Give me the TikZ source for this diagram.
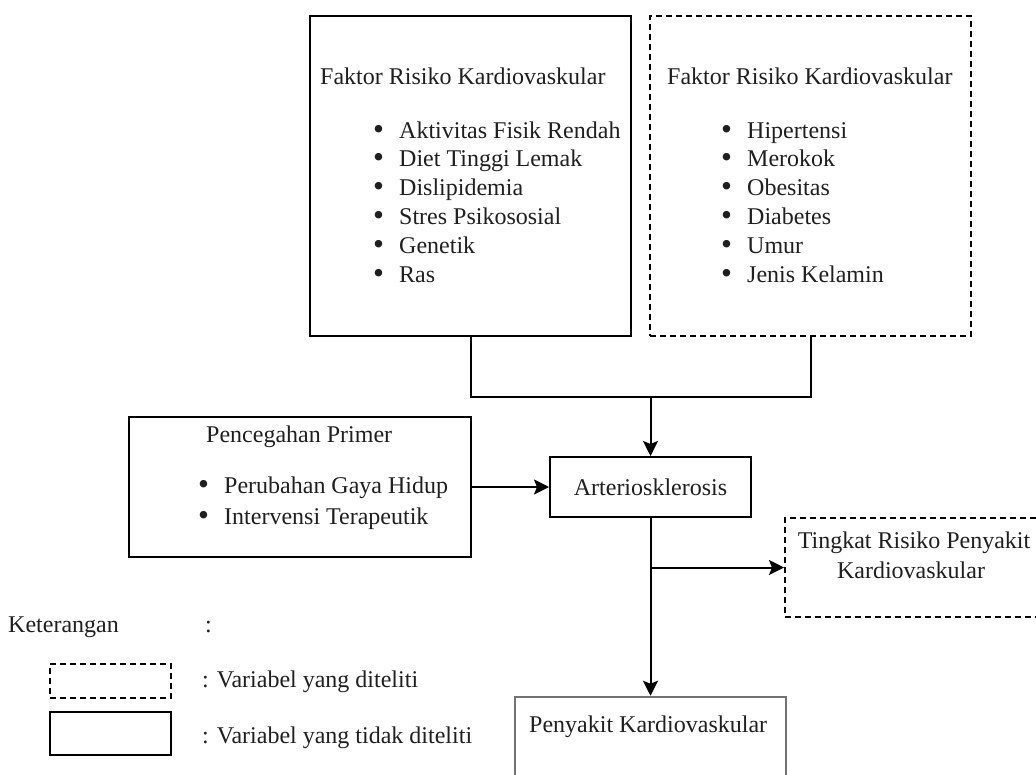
\documentclass[tikz,border=0pt]{standalone}
\usepackage{fontspec}
\setmainfont{LiberationSerif}[Extension=.ttf,UprightFont=*-Regular,BoldFont=*-Bold,ItalicFont=*-Italic,BoldItalicFont=*-BoldItalic]
\usetikzlibrary{arrows.meta}
\newcommand{\bitem}{\makebox[26pt][l]{\raisebox{-1pt}{\scalebox{1.3}{\textbullet}}}}
\begin{document}
\begin{tikzpicture}[x=1pt,y=-1pt,
  box/.style={draw, line width=2pt, inner sep=0pt, rectangle},
  dbox/.style={box, dash pattern=on 6pt off 4pt},
  txt/.style={inner sep=0pt, anchor=base west, text=black!88, font=\fontsize{24}{28}\selectfont},
  ctxt/.style={txt, anchor=base},
  conn/.style={line width=2pt},
  arr/.style={conn, -{Stealth[length=15pt,width=15pt,inset=3pt]}}]
\useasboundingbox (0,0) rectangle (1036,774);
\clip (0,0) rectangle (1036,774);

% boxes
\node[box, minimum width=321pt, minimum height=320pt] (b1) at (470.5,175.5) {};
\node[dbox, minimum width=321pt, minimum height=320pt] (b2) at (810.5,175.5) {};
\node[box, minimum width=342pt, minimum height=140pt] (pen) at (300,487) {};
\node[box, minimum width=201pt, minimum height=60pt, text=black!88, font=\fontsize{24}{28}\selectfont] (art) at (650.5,487) {Arteriosklerosis};
\node[dbox, minimum width=256pt, minimum height=99pt] (tk) at (913,567.5) {};
\node[box, draw=black!55, line width=2.5pt, minimum width=271pt, minimum height=160pt] (pk) at (650.5,777) {};
\node[dbox, minimum width=121pt, minimum height=34pt] (ld) at (110.5,681) {};
\node[box, minimum width=121pt, minimum height=43pt] (ls) at (110.5,733.5) {};

% texts box 1
\node[txt] (t1) at (320,84) {Faktor Risiko Kardiovaskular};
\node[txt] (a1) at (373,138) {\bitem Aktivitas Fisik Rendah};
\node[txt] (a2) at (373,166.8) {\bitem Diet Tinggi Lemak};
\node[txt] (a3) at (373,195.6) {\bitem Dislipidemia};
\node[txt] (a4) at (373,224.4) {\bitem Stres Psikososial};
\node[txt] (a5) at (373,253.2) {\bitem Genetik};
\node[txt] (a6) at (373,282) {\bitem Ras};

% texts box 2
\node[txt] (t2) at (667,84) {Faktor Risiko Kardiovaskular};
\node[txt] (c1) at (721,138) {\bitem Hipertensi};
\node[txt] (c2) at (721,166.8) {\bitem Merokok};
\node[txt] (c3) at (721,195.6) {\bitem Obesitas};
\node[txt] (c4) at (721,224.4) {\bitem Diabetes};
\node[txt] (c5) at (721,253.2) {\bitem Umur};
\node[txt] (c6) at (721,282) {\bitem Jenis Kelamin};

% pencegahan
\node[txt] (pt) at (206,442) {Pencegahan Primer};
\node[txt] (p1) at (198,493) {\bitem Perubahan Gaya Hidup};
\node[txt] (p2) at (198,524) {\bitem Intervensi Terapeutik};

% tingkat
\node[ctxt] (k1) at (914,548) {Tingkat Risiko Penyakit};
\node[ctxt] (k2) at (911,578) {Kardiovaskular};

% penyakit
\node[txt] (pkt) at (529,732) {Penyakit Kardiovaskular};

% legend
\node[txt] (ket) at (8,632) {Keterangan};
\node[txt] (ketc) at (205,632) {:};
\node[txt] (l1) at (202,687) {: Variabel yang diteliti};
\node[txt] (l2) at (202,743) {: Variabel yang tidak diteliti};

% connectors
\coordinate (j) at (650.5,397);
\coordinate (br) at (650.5,567.5);
\draw[conn] (b1.south) |- (j) -| (b2.south);
\draw[arr] (j) -- (art.north);
\draw[arr] (pen.east) -- (art.west);
\draw[arr] (art.south) -- (pk.north);
\draw[arr] (br) -- (tk.west);
\end{tikzpicture}
\end{document}
